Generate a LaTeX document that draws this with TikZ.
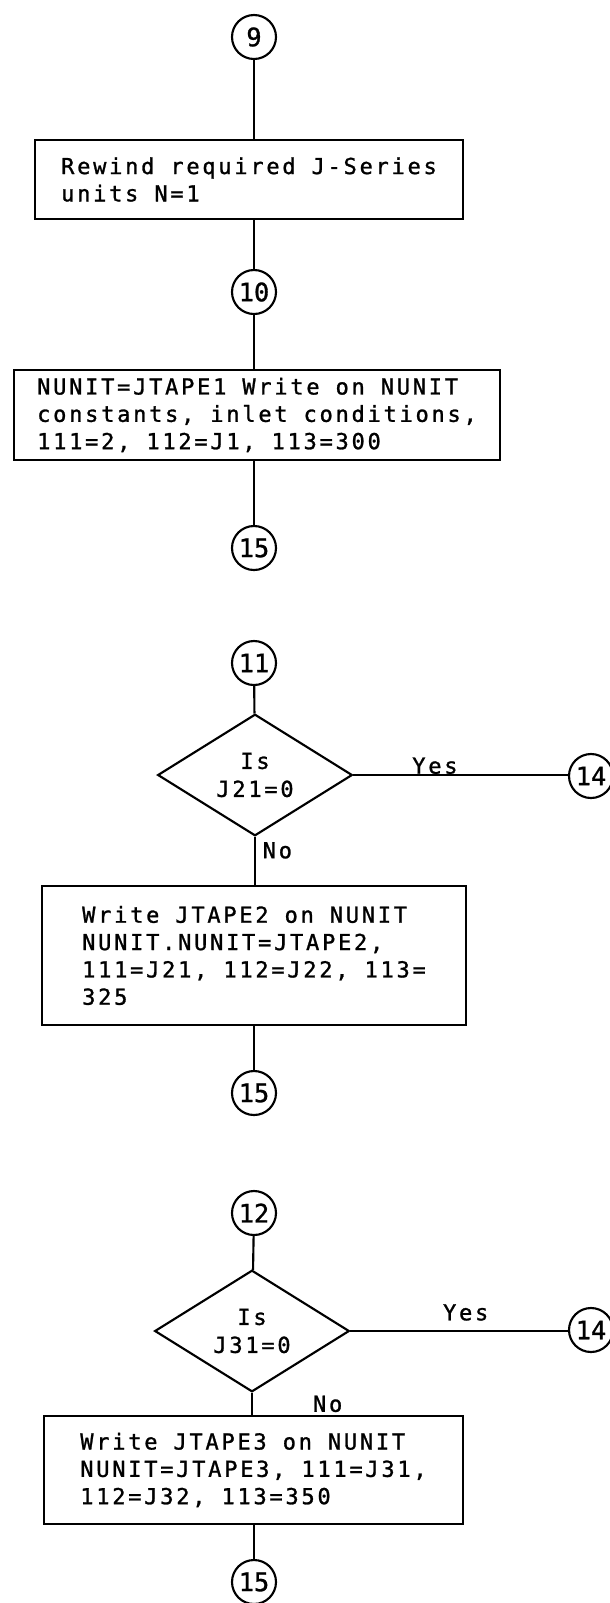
\documentclass[tikz,border=0pt]{standalone}
\usepackage{fontspec}
\usepackage{tikz}
\usetikzlibrary{positioning,shapes.geometric,calc}
\newfontfamily\typefont[LetterSpace=12.5,FakeBold=1.2]{DejaVu Sans Mono}
\newfontfamily\numfont[FakeBold=1.2]{DejaVu Sans Mono}

\begin{document}
\begin{tikzpicture}[
    x=0.75pt, y=-0.75pt,
    line width=1.6pt,
    conn/.style={circle, draw, minimum size=33pt, inner sep=0pt,
                 font=\numfont\fontsize{19pt}{19pt}\selectfont},
    box/.style={draw, rectangle, inner sep=0pt, align=left,
                font=\typefont\fontsize{16.5pt}{20.5pt}\selectfont},
    test/.style={draw, diamond, inner sep=0pt, align=center,
                 minimum width=146pt, minimum height=86pt,
                 font=\typefont\fontsize{16.5pt}{21pt}\selectfont},
    lbl/.style={font=\typefont\fontsize{16.5pt}{18pt}\selectfont, inner sep=1pt},
  ]
  \useasboundingbox (0,0) rectangle (610,1603);

  \node[conn] (c9)  at (254,37)   {9};
  \node[box, minimum width=321pt, minimum height=59pt] (b1) at (249,179.5)
       {Rewind required J-Series\\units N=1};
  \node[conn] (c10) at (254,292)  {10};
  \node[box, minimum width=364.5pt, minimum height=67.5pt] (b2) at (257,415)
       {NUNIT=JTAPE1 Write on NUNIT\\constants, inlet conditions,\\111=2, 112=J1, 113=300};
  \node[conn] (c15a) at (254,548) {15};

  \node[conn] (c11) at (254,663)  {11};
  \node[test] (d1)  at (255,775)  {Is\\J21=0};
  \node[conn] (c14a) at (591,776) {14};
  \node[box, minimum width=318pt, minimum height=104pt] (b3) at (254,955.5)
       {Write JTAPE2 on NUNIT\\NUNIT.NUNIT=JTAPE2,\\111=J21, 112=J22, 113=\\325};
  \node[conn] (c15b) at (254,1093) {15};

  \node[conn] (c12) at (254,1213) {12};
  \node[test] (d2)  at (252,1331) {Is\\J31=0};
  \node[conn] (c14b) at (591,1330) {14};
  \node[box, minimum width=314pt, minimum height=81pt] (b4) at (253.5,1470)
       {Write JTAPE3 on NUNIT\\NUNIT=JTAPE3, 111=J31,\\112=J32, 113=350};
  \node[conn] (c15c) at (254,1582) {15};

  \draw (c9) -- (c9 |- b1.north);
  \draw (b1.south -| c10) -- (c10);
  \draw (c10) -- (c10 |- b2.north);
  \draw (b2.south -| c15a) -- (c15a);

  \draw (c11) -- (d1);
  \draw (d1.east) -- node[lbl, pos=0.38, above, inner sep=0pt] (y1) {Yes} (c14a.west |- d1.east);
  \draw (d1.south) -- node[lbl, pos=0.28, right=4pt] (n1) {No} (d1.south |- b3.north);
  \draw (b3) -- (c15b);

  \draw (c12) -- (d2);
  \draw (d2.east) -- node[lbl, pos=0.53, above=6pt] (y2) {Yes} (c14b.west |- d2.east);
  \draw (d2.south) -- node[lbl, midway, right=44pt] (n2) {No} (d2.south |- b4.north);
  \draw (b4.south -| c15c) -- (c15c);
\end{tikzpicture}
\end{document}
